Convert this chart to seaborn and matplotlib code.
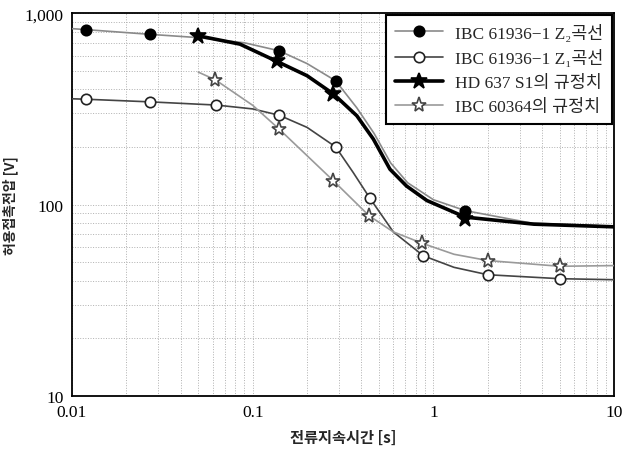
import matplotlib
matplotlib.use("Agg")
import matplotlib.pyplot as plt
import seaborn as sns
import pandas as pd
from matplotlib.lines import Line2D
from matplotlib.ticker import FixedLocator, FixedFormatter, LogLocator, NullFormatter

# ---- data ----
labels = ["IBC 61936\u22121 Z\u2082곡선", "IBC 61936\u22121 Z\u2081곡선",
          "HD 637 S1의 규정치", "IBC 60364의 규정치"]

# IEC 61936-1 Z2 (filled circle)
z2_mx = [0.012, 0.027, 0.14, 0.288, 1.5]
z2_my = [820, 775, 636, 443, 93]
z2_cx = [0.01, 0.012, 0.027, 0.05, 0.09, 0.14, 0.2, 0.288, 0.377, 0.47, 0.58, 0.72, 1.0, 1.5, 3.5, 10]
z2_cy = [830, 820, 775, 745, 700, 636, 545, 443, 320, 235, 165, 130, 106, 93, 80, 77]

# IEC 61936-1 Z1 (open circle)
z1_mx = [0.012, 0.027, 0.063, 0.14, 0.288, 0.445, 0.88, 2.0, 5.0]
z1_my = [355, 344, 331, 293, 200, 108, 54, 43, 41]
z1_cx = [0.01, 0.012, 0.027, 0.063, 0.1, 0.14, 0.2, 0.288, 0.36, 0.445, 0.6, 0.88, 1.3, 2.0, 5.0, 10]
z1_cy = [357, 355, 344, 331, 316, 293, 253, 200, 147, 108, 72, 54, 47, 43, 41, 40.5]

# HD 637 S1 (filled star)
hd_mx = [0.05, 0.136, 0.28, 1.5]
hd_my = [761, 560, 378, 84]
hd_cx = [0.05, 0.085, 0.136, 0.2, 0.28, 0.377, 0.465, 0.575, 0.71, 0.92, 1.5, 3.6, 10]
hd_cy = [761, 689, 560, 471, 378, 291, 220, 153, 125, 105, 86, 79, 76.5]

# IEC 60364 (open star)
ie_mx = [0.062, 0.14, 0.28, 0.44, 0.87, 2.0, 5.0]
ie_my = [449, 248, 133, 87.5, 62.7, 51, 47.6]
ie_cx = [0.05, 0.062, 0.1, 0.14, 0.2, 0.28, 0.44, 0.6, 0.87, 1.3, 2.0, 5.0, 10]
ie_cy = [492, 449, 330, 248, 180, 133, 87.5, 72, 62.7, 55, 51, 47.6, 48]

x_ticks = [0.01, 0.1, 1, 10]
x_ticklabels = ["0.01", "0.1", "1", "10"]
y_ticks = [10, 100, 1000]
y_ticklabels = ["10", "100", "1,000"]

sns.set_theme(style="white")
plt.rcParams["font.family"] = ["Liberation Serif", "Noto Sans CJK KR", "DejaVu Sans"]

fig = plt.figure(figsize=(6.26, 4.52), dpi=100)
ax = fig.add_axes([0.115, 0.1217, 0.866, 0.847])

styles = [
    dict(cx=z2_cx, cy=z2_cy, mx=z2_mx, my=z2_my, lc="#8a8a8a", lw=1.2,
         marker="o", ms=7.5, mfc="black", mec="black"),
    dict(cx=z1_cx, cy=z1_cy, mx=z1_mx, my=z1_my, lc="#444444", lw=1.2,
         marker="o", ms=7.5, mfc="white", mec="#222222"),
    dict(cx=hd_cx, cy=hd_cy, mx=hd_mx, my=hd_my, lc="black", lw=2.6,
         marker="*", ms=12, mfc="black", mec="black"),
    dict(cx=ie_cx, cy=ie_cy, mx=ie_mx, my=ie_my, lc="#9a9a9a", lw=1.2,
         marker="*", ms=11, mfc="white", mec="#444444"),
]

handles = []
for s, lab in zip(styles, labels):
    dfc = pd.DataFrame({"x": s["cx"], "y": s["cy"]})
    sns.lineplot(data=dfc, x="x", y="y", ax=ax, color=s["lc"], lw=s["lw"],
                 estimator=None, sort=True, legend=False, zorder=3)
    dfm = pd.DataFrame({"x": s["mx"], "y": s["my"]})
    ax.plot(dfm["x"], dfm["y"], linestyle="none", marker=s["marker"],
            ms=s["ms"], mfc=s["mfc"], mec=s["mec"], mew=1.2, zorder=4)
    handles.append(Line2D([], [], color=s["lc"], lw=s["lw"], marker=s["marker"],
                          ms=s["ms"], mfc=s["mfc"], mec=s["mec"], mew=1.2))

ax.set_xscale("log")
ax.set_yscale("log")
ax.set_xlim(0.01, 10)
ax.set_ylim(10, 1000)
ax.xaxis.set_major_locator(FixedLocator(x_ticks))
ax.xaxis.set_major_formatter(FixedFormatter(x_ticklabels))
ax.yaxis.set_major_locator(FixedLocator(y_ticks))
ax.yaxis.set_major_formatter(FixedFormatter(y_ticklabels))
ax.xaxis.set_minor_locator(LogLocator(base=10, subs=range(2, 10)))
ax.yaxis.set_minor_locator(LogLocator(base=10, subs=range(2, 10)))
ax.xaxis.set_minor_formatter(NullFormatter())
ax.yaxis.set_minor_formatter(NullFormatter())
ax.tick_params(axis="both", which="both", length=0, labelsize=12.5, pad=6,
               colors="black")
ax.grid(True, which="both", color="#b0b0b0", linestyle=":", lw=0.7)

for sp in ax.spines.values():
    sp.set_visible(True)
    sp.set_color("black")
    sp.set_linewidth(1.3)

ax.set_xlabel("전류지속시간 [s]", fontsize=11, fontweight="bold",
              family=["Noto Sans CJK KR", "DejaVu Sans"], labelpad=6)
ax.set_ylabel("허용접촉전압 [V]", fontsize=10, fontweight="bold",
              family=["Noto Sans CJK KR", "DejaVu Sans"])
ax.yaxis.set_label_coords(-0.1, 0.5)

leg = ax.legend(handles, labels, loc="upper right", borderaxespad=0.1,
                fontsize=12.5, frameon=True, fancybox=False, framealpha=1,
                edgecolor="black", handlelength=2.8, labelspacing=0.45,
                borderpad=0.5, handletextpad=0.7)
leg.get_frame().set_linewidth(1.5)

fig.savefig("out.png", dpi=100)
